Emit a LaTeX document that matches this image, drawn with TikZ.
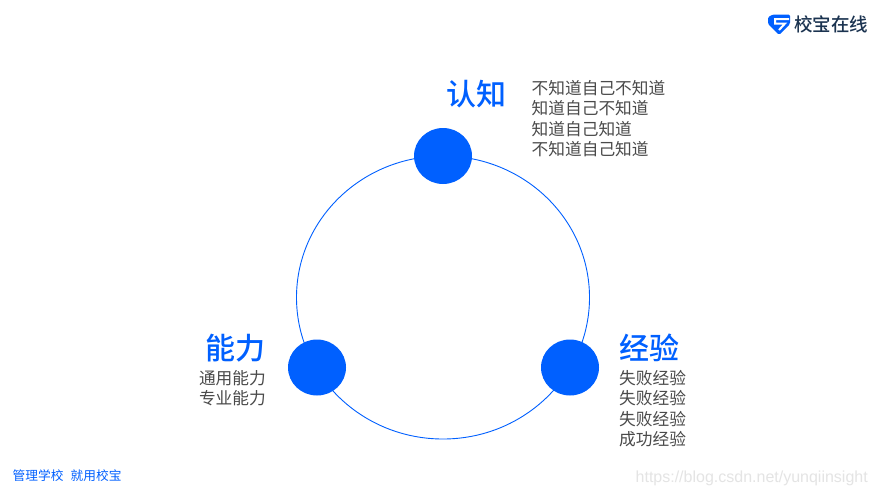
\documentclass[tikz,border=0pt]{standalone}
\usepackage{fontspec}
\setmainfont{Noto Sans CJK SC}
\newfontfamily\cjkbold{Noto Sans CJK SC Medium}
\newfontfamily\latinfont{Liberation Sans}
\definecolor{brand}{HTML}{0060FF}
\definecolor{bodytext}{HTML}{4A4A4A}
\definecolor{logotext}{HTML}{1B3350}
\definecolor{mark}{HTML}{E4E4E4}
\usetikzlibrary{shapes.geometric}
\tikzset{
  dot/.style={ellipse,fill=brand,minimum width=58pt,minimum height=56pt,inner sep=0pt},
  heading/.style={text=brand,font=\cjkbold\fontsize{30}{30}\selectfont,inner sep=0pt},
  listing/.style={text=bodytext,font=\fontsize{16.7}{20.5}\selectfont,inner sep=0pt,align=left},
  listingr/.style={listing,align=right}
}
\begin{document}
\begin{tikzpicture}[x=1pt,y=-1pt]
\useasboundingbox (0,0) rectangle (877,496);
\fill[white] (0,0) rectangle (877,496);
\node[ellipse,draw=brand,line width=0.9pt,minimum width=293pt,minimum height=283pt,inner sep=0pt] (ring) at (443,297.5) {};
\node[dot] (top) at (443,156) {};
\node[dot] (left) at (317,367.5) {};
\node[dot] (right) at (570,367.5) {};
\node[heading,anchor=center] (h1) at (476.5,94) {认知};
\node[heading,anchor=center] (h2) at (235,348) {能力};
\node[heading,anchor=center] (h3) at (649,348) {经验};
\node[listing,anchor=north west] (l1) at (531.5,80) {不知道自己不知道\\知道自己不知道\\知道自己知道\\不知道自己知道};
\node[listingr,anchor=north east] (l2) at (266,370) {通用能力\\专业能力};
\node[listing,anchor=north west] (l3) at (619,370) {失败经验\\失败经验\\失败经验\\成功经验};
\node[anchor=west,inner sep=0pt,text=brand,font=\fontsize{12.7}{14}\selectfont] (slogan) at (12.5,475.5) {管理学校};
\node[anchor=west,inner sep=0pt,text=brand,font=\fontsize{12.7}{14}\selectfont] (slogan2) at (70.5,475.5) {就用校宝};
\node[anchor=west,inner sep=0pt,text=logotext,font=\cjkbold\fontsize{18.5}{19}\selectfont] (logotype) at (794,24.5) {校宝在线};
\fill[brand,rounded corners=1.5pt] (768,17) -- (773,14.5) -- (790,14.5) -- (790,24) -- (779,35) -- (768,24) -- cycle;
\draw[white,line width=2pt] (789,19) -- (775,19) -- (775,23.5) -- (785,23.5) -- (779,30);
\node[anchor=east,inner sep=0pt,text=mark,font=\latinfont\fontsize{16}{16}\selectfont] (wm) at (868,478) {https://blog.csdn.net/yunqiinsight};
\end{tikzpicture}
\end{document}
